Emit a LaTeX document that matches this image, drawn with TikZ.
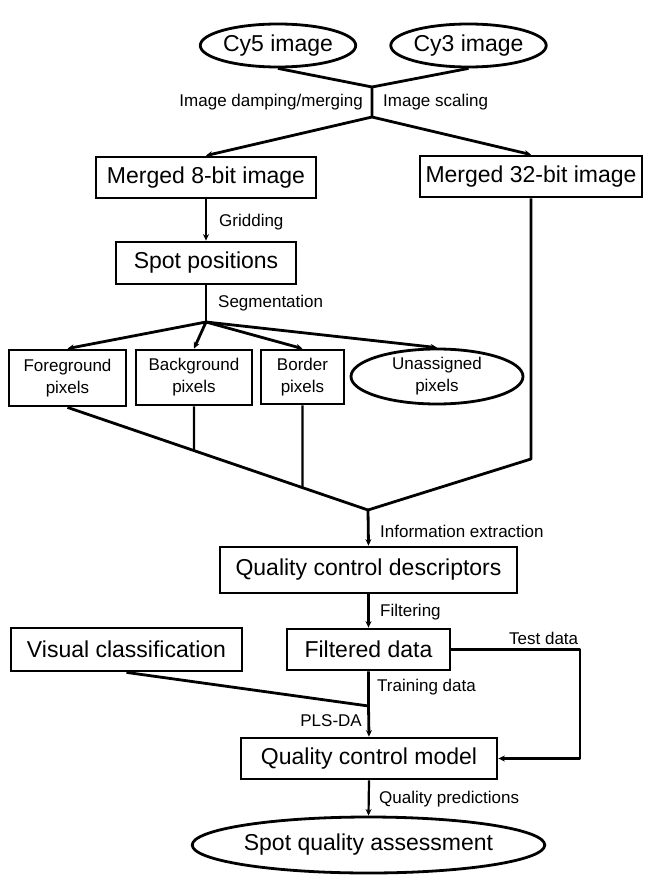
\documentclass[tikz,border=0pt]{standalone}
\usepackage{fontspec}
\setmainfont{Liberation Sans}
\usetikzlibrary{shapes.geometric,arrows.meta,intersections,calc}
\begin{document}
\begin{tikzpicture}[x=1pt,y=-1pt,
  big/.style={font=\fontsize{23}{27}\selectfont},
  box/.style={draw,line width=2.8pt,inner sep=0pt,big},
  ell/.style={draw,ellipse,line width=2.8pt,inner sep=0pt,big},
  pix/.style={draw,line width=2.8pt,inner sep=0pt,align=center,font=\fontsize{17}{22}\selectfont},
  lab/.style={inner sep=0pt,font=\fontsize{17}{20}\selectfont},
  conn/.style={line width=2.8pt,line join=round},
  arr/.style={line width=2.8pt,line join=round,-{Stealth[length=6.5pt,width=6pt]}},
  thin/.style={line width=2.2pt},
]
\useasboundingbox (0,0) rectangle (645,875);

% nodes
\node[ell,minimum width=151,minimum height=43] (cy5) at (278,45.5) {Cy5 image};
\node[ell,minimum width=148,minimum height=43] (cy3) at (468.5,45.5) {Cy3 image};
\node[box,minimum width=220,minimum height=41] (m8) at (206,177.5) {Merged 8-bit image};
\node[box,minimum width=222,minimum height=41] (m32) at (531,176.5) {Merged 32-bit image};
\node[box,minimum width=180,minimum height=42] (spot) at (206,263) {Spot positions};
\node[pix,minimum width=117,minimum height=56] (fg) at (67.5,378) {Foreground\\pixels};
\node[pix,minimum width=116,minimum height=55] (bg) at (194,377.5) {Background\\pixels};
\node[pix,minimum width=83,minimum height=54] (bd) at (302.5,377) {Border\\pixels};
\node[pix,ellipse,minimum width=172,minimum height=55] (un) at (437,376.5) {Unassigned\\pixels};
\node[box,minimum width=297,minimum height=46] (qcd) at (368.5,570) {Quality control descriptors};
\node[box,minimum width=231,minimum height=43] (vis) at (126.5,649.5) {Visual classification};
\node[box,minimum width=163,minimum height=41] (fd) at (368.5,649.5) {Filtered data};
\node[box,minimum width=256,minimum height=41] (qcm) at (369,758.5) {Quality control model};
\node[ell,minimum width=317,minimum height=56] (sqa) at (368.5,845) {Spot quality assessment};

% junctions
\coordinate (j1) at (372,87);
\coordinate (j2) at (372,117);
\coordinate (js) at (206,322);
\coordinate (k32) at (531,459);
\coordinate (jm) at (368,510);
\coordinate (jv) at (368.5,706);
\coordinate (tc) at (580,0);

% top merge
\draw[conn] (cy5.south) -- (j1) -- (j2);
\draw[conn] (cy3.south) -- (j1);
\draw[arr] (j2) -- (m8.north);
\draw[arr] (j2) -- (m32.north);
\node[lab,anchor=east] (l1) at (363,102) {Image damping/merging};
\node[lab,anchor=west] (l2) at (383,102) {Image scaling};

% gridding
\draw[arr,thin] (m8.south) -- (spot.north);
\node[lab,anchor=west] (l3) at (219,222) {Gridding};

% segmentation
\draw[conn] (spot.south) -- (js);
\draw[arr] (js) -- (fg.north);
\draw[arr] (js) -- (bg.north);
\draw[arr] (js) -- (bd.north);
\draw[arr] (js) -- (un.north);
\node[lab,anchor=west] (l4) at (218,303) {Segmentation};

% collecting lines
\draw[conn,name path=diag] (fg.south) -- (jm);
\path[name path=vbg] (bg.south) -- ++(0,120);
\path[name path=vbd] (bd.south) -- ++(0,120);
\draw[conn,thin,name intersections={of=diag and vbg,by=xbg}] (bg.south) -- (xbg);
\draw[conn,thin,name intersections={of=diag and vbd,by=xbd}] (bd.south) -- (xbd);
\draw[conn] (m32.south) -- (k32) -- (jm);

% information extraction
\draw[arr] (jm) -- (qcd.north);
\node[lab,anchor=west] (l5) at (380,531) {Information extraction};

% filtering
\draw[arr,thin] (qcd.south) -- (fd.north);
\node[lab,anchor=west] (l6) at (380,612) {Filtering};

% training / PLS-DA
\draw[conn] (vis.south) -- (jv);
\draw[arr] (fd.south) -- (jv) -- (qcm.north);
\node[lab,anchor=west] (l7) at (377,687) {Training data};
\node[lab,anchor=east] (l8) at (362,721) {PLS-DA};

% test data
\draw[arr] (fd.east) -- (fd.east -| tc) |- (qcm.east);
\node[lab,anchor=west] (l9) at (509,638) {Test data};

% quality predictions
\draw[arr,thin] (qcm.south) -- (sqa.north);
\node[lab,anchor=west] (l10) at (379,799) {Quality predictions};
\end{tikzpicture}
\end{document}
